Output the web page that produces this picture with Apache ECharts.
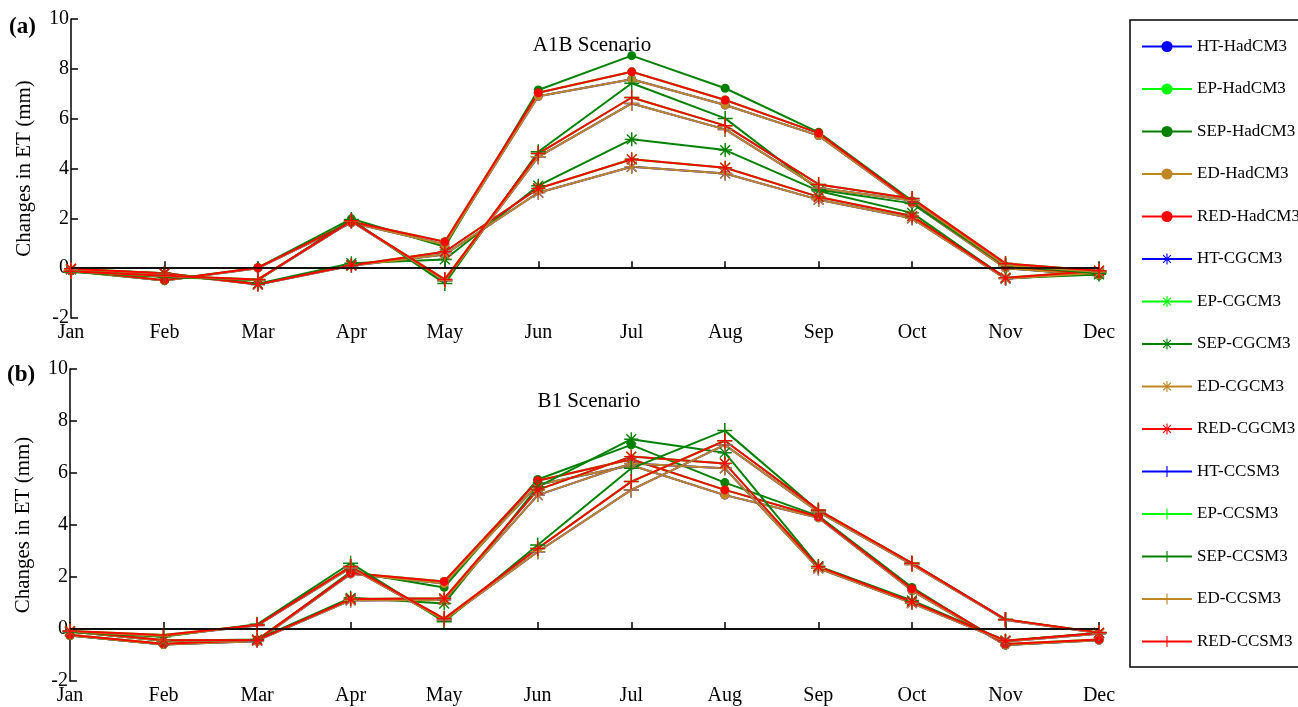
<!DOCTYPE html>
<html>
<head>
<meta charset="utf-8">
<script src="https://cdn.jsdelivr.net/npm/echarts@6/dist/echarts.min.js"></script>
<style>
html,body{margin:0;padding:0;background:#fff;}
#chart{width:1298px;height:707px;}
</style>
</head>
<body>
<div id="chart"></div>
<script>
const months = ['Jan','Feb','Mar','Apr','May','Jun','Jul','Aug','Sep','Oct','Nov','Dec'];
const yMin = -2, yMax = 10, yStep = 2;

// ---- (a) A1B scenario ----
// HadCM3 (circles)
const a_HT_HadCM3  = [-0.10,-0.50, 0.00,1.82, 0.95,6.90,7.58,6.55,5.32,2.60, 0.00,-0.28];
const a_EP_HadCM3  = [-0.08,-0.48, 0.02,1.86, 1.06,7.04,7.88,6.75,5.42,2.65, 0.08,-0.22];
const a_SEP_HadCM3 = [-0.12,-0.50, 0.02,1.98, 0.86,7.15,8.53,7.22,5.45,2.70, 0.02,-0.30];
const a_ED_HadCM3  = [-0.10,-0.50, 0.00,1.82, 0.95,6.90,7.58,6.55,5.32,2.60, 0.00,-0.28];
const a_RED_HadCM3 = [-0.08,-0.48, 0.02,1.86, 1.06,7.04,7.88,6.75,5.42,2.65, 0.08,-0.22];
// CGCM3 (asterisks)
const a_HT_CGCM3   = [-0.05,-0.22,-0.66,0.10, 0.55,3.03,4.07,3.80,2.75,2.00,-0.42,-0.18];
const a_EP_CGCM3   = [-0.02,-0.20,-0.65,0.12, 0.66,3.20,4.37,4.03,2.86,2.09,-0.38,-0.10];
const a_SEP_CGCM3  = [-0.05,-0.20,-0.62,0.20, 0.35,3.31,5.17,4.74,3.10,2.22,-0.40,-0.25];
const a_ED_CGCM3   = [-0.05,-0.22,-0.66,0.10, 0.55,3.03,4.07,3.80,2.75,2.00,-0.42,-0.18];
const a_RED_CGCM3  = [-0.02,-0.20,-0.65,0.12, 0.66,3.20,4.37,4.03,2.86,2.09,-0.38,-0.10];
// CCSM3 (plus)
const a_HT_CCSM3   = [-0.13,-0.32,-0.47,1.88,-0.50,4.47,6.61,5.57,3.22,2.72, 0.12,-0.15];
const a_EP_CCSM3   = [-0.12,-0.30,-0.45,1.90,-0.45,4.60,6.85,5.72,3.36,2.80, 0.19,-0.10];
const a_SEP_CCSM3  = [-0.15,-0.35,-0.48,1.95,-0.62,4.67,7.42,6.01,3.15,2.60, 0.10,-0.20];
const a_ED_CCSM3   = [-0.13,-0.32,-0.47,1.88,-0.50,4.47,6.61,5.57,3.22,2.72, 0.12,-0.15];
const a_RED_CCSM3  = [-0.12,-0.30,-0.45,1.90,-0.45,4.60,6.85,5.72,3.36,2.80, 0.19,-0.10];

// ---- (b) B1 scenario ----
const b_HT_HadCM3  = [-0.25,-0.60,-0.47,2.12,1.75,5.55,6.30,5.15,4.28,1.48,-0.62,-0.43];
const b_EP_HadCM3  = [-0.22,-0.57,-0.42,2.15,1.83,5.70,6.53,5.35,4.32,1.55,-0.58,-0.40];
const b_SEP_HadCM3 = [-0.25,-0.60,-0.45,2.20,1.60,5.75,7.08,5.63,4.35,1.60,-0.62,-0.42];
const b_ED_HadCM3  = [-0.25,-0.60,-0.47,2.12,1.75,5.55,6.30,5.15,4.28,1.48,-0.62,-0.43];
const b_RED_HadCM3 = [-0.22,-0.57,-0.42,2.15,1.83,5.70,6.53,5.35,4.32,1.55,-0.58,-0.40];

const b_HT_CGCM3   = [-0.10,-0.45,-0.45,1.10,1.12,5.15,6.37,6.18,2.33,1.00,-0.48,-0.18];
const b_EP_CGCM3   = [-0.08,-0.42,-0.43,1.15,1.18,5.35,6.63,6.37,2.40,1.05,-0.45,-0.15];
const b_SEP_CGCM3  = [-0.10,-0.45,-0.40,1.20,0.98,5.47,7.30,6.78,2.42,1.10,-0.45,-0.15];
const b_ED_CGCM3   = [-0.10,-0.45,-0.45,1.10,1.12,5.15,6.37,6.18,2.33,1.00,-0.48,-0.18];
const b_RED_CGCM3  = [-0.08,-0.42,-0.43,1.15,1.18,5.35,6.63,6.37,2.40,1.05,-0.45,-0.15];

const b_HT_CCSM3   = [-0.10,-0.27,0.13,2.35,0.35,2.97,5.35,7.08,4.50,2.48,0.35,-0.15];
const b_EP_CCSM3   = [-0.08,-0.23,0.15,2.40,0.40,3.10,5.67,7.24,4.58,2.53,0.37,-0.13];
const b_SEP_CCSM3  = [-0.12,-0.30,0.18,2.53,0.28,3.23,6.18,7.63,4.55,2.53,0.37,-0.15];
const b_ED_CCSM3   = [-0.10,-0.27,0.13,2.35,0.35,2.97,5.35,7.08,4.50,2.48,0.35,-0.15];
const b_RED_CCSM3  = [-0.08,-0.23,0.15,2.40,0.40,3.10,5.67,7.24,4.58,2.53,0.37,-0.13];

const scenarios = ['HT','EP','SEP','ED','RED'];
const models = ['HadCM3','CGCM3','CCSM3'];
const colors = {HT:'#0000ff', EP:'#00ff00', SEP:'#008000', ED:'#bf8624', RED:'#ff0000'};

const PLUS = 'path://M9,0H11V9H20V11H11V20H9V11H0V9H9Z';
const ASTER = 'path://M9,0H11V9H20V11H11V20H9V11H0V9H9Z M2.3,3.7L3.7,2.3L17.7,16.3L16.3,17.7Z M16.3,2.3L17.7,3.7L3.7,17.7L2.3,16.3Z';
const markers = {HadCM3:{symbol:'circle', size:9}, CGCM3:{symbol:ASTER, size:14}, CCSM3:{symbol:PLUS, size:15}};

const panelA = {
  HadCM3:{HT:a_HT_HadCM3, EP:a_EP_HadCM3, SEP:a_SEP_HadCM3, ED:a_ED_HadCM3, RED:a_RED_HadCM3},
  CGCM3:{HT:a_HT_CGCM3, EP:a_EP_CGCM3, SEP:a_SEP_CGCM3, ED:a_ED_CGCM3, RED:a_RED_CGCM3},
  CCSM3:{HT:a_HT_CCSM3, EP:a_EP_CCSM3, SEP:a_SEP_CCSM3, ED:a_ED_CCSM3, RED:a_RED_CCSM3}
};
const panelB = {
  HadCM3:{HT:b_HT_HadCM3, EP:b_EP_HadCM3, SEP:b_SEP_HadCM3, ED:b_ED_HadCM3, RED:b_RED_HadCM3},
  CGCM3:{HT:b_HT_CGCM3, EP:b_EP_CGCM3, SEP:b_SEP_CGCM3, ED:b_ED_CGCM3, RED:b_RED_CGCM3},
  CCSM3:{HT:b_HT_CCSM3, EP:b_EP_CCSM3, SEP:b_SEP_CCSM3, ED:b_ED_CCSM3, RED:b_RED_CCSM3}
};

const FONT = 'Liberation Serif, Times New Roman, serif';
const series = [];
const legendNames = [];
[panelA, panelB].forEach((panel, gi) => {
  let first = true;
  models.forEach(m => {
    scenarios.forEach(s => {
      const name = s + '-' + m;
      if (gi === 0) legendNames.push(name);
      const ser = {
        name: name,
        type: 'line',
        xAxisIndex: gi, yAxisIndex: gi,
        data: panel[m][s],
        symbol: markers[m].symbol,
        symbolSize: markers[m].size,
        showAllSymbol: true,
        animation: false,
        lineStyle: {color: colors[s], width: 2},
        itemStyle: {color: colors[s], borderWidth: 0},
        emphasis: {disabled: true}
      };
      if (first) {
        ser.markLine = {
          silent: true, symbol: 'none', animation: false,
          label: {show: false},
          lineStyle: {color: '#000', width: 1.5, type: 'solid'},
          data: [{yAxis: 0}]
        };
        first = false;
      }
      series.push(ser);
    });
  });
});

function xAxisDef(gi) {
  return {
    type: 'category', gridIndex: gi, data: months, boundaryGap: false,
    axisLine: {lineStyle: {color: '#000', width: 1.5}},
    axisTick: {inside: true, length: 7, alignWithLabel: true, lineStyle: {color: '#000', width: 1.5}},
    axisLabel: {color: '#000', fontFamily: FONT, fontSize: 20, margin: 5, interval: 0},
    splitLine: {show: false}
  };
}
function yAxisDef(gi) {
  return {
    type: 'value', gridIndex: gi, min: yMin, max: yMax, interval: yStep,
    name: 'Changes in ET (mm)', nameLocation: 'middle', nameGap: 36,
    nameTextStyle: {color: '#000', fontFamily: FONT, fontSize: 21},
    axisLine: {show: true, lineStyle: {color: '#000', width: 1.5}},
    axisTick: {show: true, inside: true, length: 7, lineStyle: {color: '#000', width: 1.5}},
    axisLabel: {color: '#000', fontFamily: FONT, fontSize: 20, margin: 2},
    splitLine: {show: false}
  };
}

const chart = echarts.init(document.getElementById('chart'), null, {renderer: 'canvas'});
chart.setOption({
  backgroundColor: '#fff',
  animation: false,
  title: [
    {text: 'A1B Scenario', left: 587, top: 30, textAlign: 'center',
     textStyle: {color: '#000', fontFamily: FONT, fontSize: 21, fontWeight: 'normal'}},
    {text: 'B1 Scenario', left: 584, top: 386, textAlign: 'center',
     textStyle: {color: '#000', fontFamily: FONT, fontSize: 21, fontWeight: 'normal'}}
  ],
  grid: [
    {left: 71, top: 19, width: 1028, height: 299, containLabel: false},
    {left: 70, top: 369, width: 1029, height: 312, containLabel: false}
  ],
  xAxis: [xAxisDef(0), xAxisDef(1)],
  yAxis: [yAxisDef(0), yAxisDef(1)],
  legend: {
    orient: 'vertical', left: 1141, top: 38, padding: 0,
    itemWidth: 50, itemHeight: 14, itemGap: 25.5,
    data: legendNames,
    textStyle: {color: '#000', fontFamily: FONT, fontSize: 17, padding: [0,0,0,0], lineHeight: 17},
    selectedMode: false
  },
  graphic: [
    {type: 'rect', shape: {x: 1130, y: 20, width: 200, height: 647},
     style: {fill: 'none', stroke: '#000', lineWidth: 1.5}, silent: true},
    {type: 'text', left: 9, top: 16,
     style: {text: '(a)', fill: '#000', font: 'bold 23px ' + FONT}},
    {type: 'text', left: 7, top: 364,
     style: {text: '(b)', fill: '#000', font: 'bold 23px ' + FONT}}
  ],
  series: series
});
</script>
</body>
</html>
